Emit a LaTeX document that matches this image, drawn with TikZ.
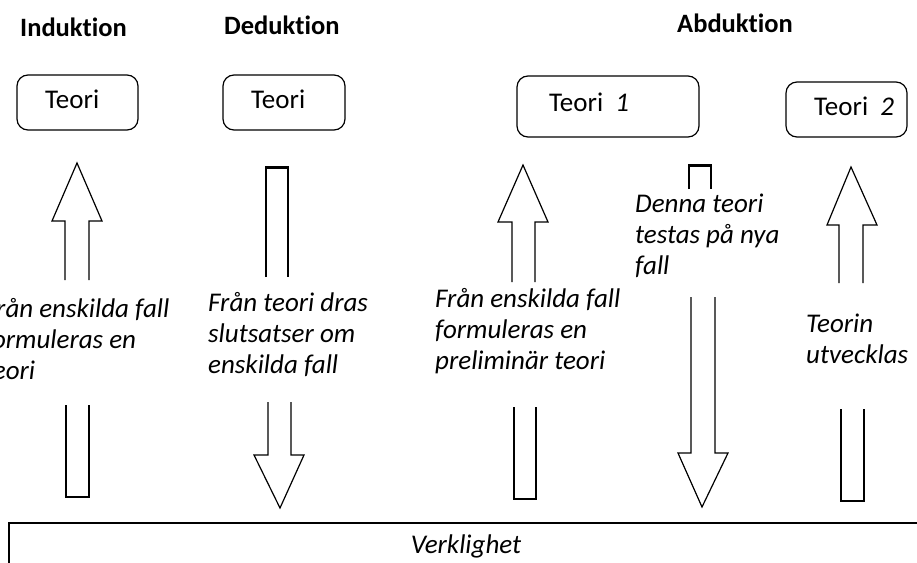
\documentclass[tikz,border=0pt]{standalone}
\usepackage{fontspec}
\setmainfont{Carlito}[RawFeature={-liga;-clig;-calt;-dlig}]
\begin{document}
\begin{tikzpicture}[x=1pt,y=-1pt,
  shp/.style={line width=1.2pt, line join=miter},
  tbox/.style={draw, line width=1.2pt, rounded corners=11pt},
  topbar/.style={line width=3pt},
  lbl/.style={inner sep=0pt, anchor=base west, font=\fontsize{27}{31}\selectfont\itshape},
  head/.style={inner sep=0pt, anchor=base west, font=\fontsize{26.5}{31}\selectfont\bfseries},
  tlbl/.style={inner sep=0pt, anchor=base west, font=\fontsize{27}{31}\selectfont}]
\useasboundingbox (0,0) rectangle (917,562);
\clip (0,0) rectangle (917,562);

% headings
\node[head] (hind) at (20,36) {Induk\kern0pt tion};
\node[head] (hded) at (224,34) {Deduk\kern0pt tion};
\node[head] (habd) at (677,32) {Abduk\kern0pt tion};

% theory boxes
\draw[tbox] (17,75) rectangle (138,130);
\node[tlbl] (t1) at (45,108) {Teori};
\draw[tbox] (223,75) rectangle (345,130);
\node[tlbl] (t2) at (251,108) {Teori};
\draw[tbox] (517,76) rectangle (699,137);
\node[tlbl] (t3) at (549,111) {Teori\ \ \textit{1}};
\draw[tbox] (786,82) rectangle (907,137);
\node[tlbl] (t4) at (814,115) {Teori\ \ \textit{2}};

% Induktion arrow
\draw[shp] (65,280) -- (65,221) -- (52,221) -- (77,163) -- (102,221) -- (89,221) -- (89,280);
\draw[shp] (66,405) -- (66,497) -- (89,497) -- (89,405);
\node[lbl] (ind) at (-16,317) {\parbox[t]{300pt}{\raggedright Från enskilda fall\\formuleras en\\teori}};

% Deduktion arrow
\draw[shp] (266,277) -- (266,167) -- (288,167) -- (288,277);
\draw[topbar] (265,167) -- (289,167);
\draw[shp] (268,402) -- (268,455) -- (254,455) -- (280,508) -- (304,455) -- (291,455) -- (291,402);
\node[lbl] (ded) at (208,311) {\parbox[t]{300pt}{\raggedright Från teori dras\\slutsatser om\\enskilda fall}};

% Abduktion preliminary
\draw[shp] (512,282) -- (512,222) -- (498,222) -- (523,165) -- (548,222) -- (535,222) -- (535,282);
\draw[shp] (514,407) -- (514,499) -- (536,499) -- (536,407);
\node[lbl] (pre) at (435,307) {\parbox[t]{300pt}{\raggedright Från enskilda fall\\formuleras en\\preliminär teori}};

% Denna teori
\draw[shp] (689,189) -- (689,165) -- (711,165) -- (711,189);
\draw[topbar] (688,165) -- (712,165);
\draw[shp] (691,297) -- (691,453) -- (678,453) -- (702,507) -- (728,453) -- (715,453) -- (715,297);
\node[lbl] (den) at (635,212) {\parbox[t]{300pt}{\raggedright Denna teori\\testas på nya\\fall}};

% Teorin utvecklas
\draw[shp] (839,283) -- (839,225) -- (827,225) -- (851,167) -- (877,225) -- (863,225) -- (863,283);
\draw[shp] (841,409) -- (841,501) -- (864,501) -- (864,409);
\node[lbl] (utv) at (806,332) {\parbox[t]{300pt}{\raggedright Teorin\\utvecklas}};

% Verklighet
\draw[line width=1.2pt] (9,580) -- (9,523) -- (930,523);
\node[lbl, anchor=base] (ver) at (466,553) {Verklighet};
\end{tikzpicture}
\end{document}
